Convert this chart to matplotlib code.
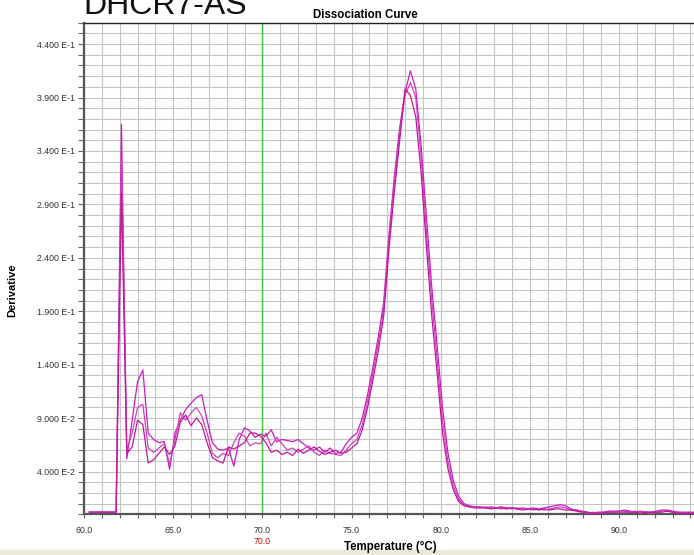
import matplotlib

matplotlib.use("Agg")
import matplotlib.pyplot as plt
from matplotlib.patches import Rectangle
from matplotlib.ticker import FixedLocator, FuncFormatter, MultipleLocator

# --- DATA

temperature = [
    60.3, 60.6, 60.9, 61.2, 61.5, 61.8, 62.1, 62.4, 62.7, 63.0,
    63.3, 63.6, 63.9, 64.2, 64.5, 64.8, 65.1, 65.4, 65.7, 66.0,
    66.3, 66.6, 66.9, 67.2, 67.5, 67.8, 68.1, 68.4, 68.7, 69.0,
    69.3, 69.6, 69.9, 70.2, 70.5, 70.8, 71.1, 71.4, 71.7, 72.0,
    72.3, 72.6, 72.9, 73.2, 73.5, 73.8, 74.1, 74.4, 74.7, 75.0,
    75.3, 75.6, 75.9, 76.2, 76.5, 76.8, 77.1, 77.4, 77.7, 78.0,
    78.3, 78.6, 78.9, 79.2, 79.5, 79.8, 80.1, 80.4, 80.7, 81.0,
    81.3, 81.6, 81.9, 82.2, 82.5, 82.8, 83.1, 83.4, 83.7, 84.0,
    84.3, 84.6, 84.9, 85.2, 85.5, 85.8, 86.1, 86.4, 86.7, 87.0,
    87.3, 87.6, 87.9, 88.2, 88.5, 88.8, 89.1, 89.4, 89.7, 90.0,
    90.3, 90.6, 90.9, 91.2, 91.5, 91.8, 92.1, 92.4, 92.7, 93.0,
    93.3, 93.6, 93.9, 94.2,
]

well_a = [
    .002, .002, .002, .002, .002, .002, .365, .052, .088, .124,
    .135, .076, .070, .067, .068, .042, .076, .088, .098, .104,
    .109, .112, .088, .067, .061, .060, .062, .045, .070, .081,
    .078, .072, .075, .073, .079, .068, .070, .069, .068, .070,
    .066, .062, .060, .063, .058, .062, .057, .058, .066, .072,
    .076, .090, .112, .138, .166, .198, .262, .316, .362, .395,
    .415, .398, .345, .278, .212, .158, .100, .058, .032, .017,
    .010, .008, .007, .007, .006, .007, .006, .007, .006, .006,
    .005, .006, .005, .006, .005, .006, .007, .008, .009, .008,
    .005, .004, .003, .002, .001, .002, .002, .003, .003, .003,
    .004, .003, .002, .003, .002, .002, .003, .004, .004, .003,
    .002, .002, .002, .001,
]

well_b = [
    .002, .002, .002, .002, .002, .002, .335, .060, .076, .100,
    .103, .062, .058, .062, .066, .047, .070, .095, .088, .095,
    .100, .092, .076, .057, .053, .057, .055, .067, .076, .073,
    .064, .067, .066, .076, .064, .072, .066, .060, .062, .058,
    .061, .064, .058, .055, .060, .057, .056, .055, .060, .066,
    .070, .084, .106, .132, .160, .192, .255, .310, .356, .392,
    .404, .390, .335, .265, .200, .145, .088, .050, .027, .014,
    .009, .007, .007, .006, .007, .006, .006, .005, .006, .005,
    .006, .005, .005, .004, .005, .004, .005, .006, .007, .006,
    .004, .004, .003, .001, .002, .001, .002, .002, .002, .003,
    .003, .002, .003, .002, .002, .001, .002, .003, .003, .002,
    .002, .001, .002, .002,
]

well_c = [
    .002, .002, .002, .002, .002, .002, .300, .057, .063, .088,
    .084, .048, .051, .057, .063, .056, .064, .086, .093, .083,
    .090, .084, .067, .053, .050, .048, .063, .061, .064, .067,
    .076, .076, .073, .067, .058, .060, .056, .058, .055, .061,
    .057, .060, .063, .059, .056, .058, .060, .057, .058, .062,
    .066, .079, .100, .126, .153, .185, .248, .302, .350, .398,
    .392, .372, .320, .250, .185, .132, .076, .043, .023, .012,
    .008, .007, .006, .006, .006, .005, .006, .006, .005, .006,
    .005, .004, .005, .005, .004, .005, .004, .005, .005, .004,
    .004, .003, .002, .002, .001, .001, .001, .002, .002, .002,
    .002, .002, .002, .001, .002, .002, .002, .002, .003, .002,
    .001, .001, .001, .001,
]

x_ticks = [60, 65, 70, 75, 80, 85, 90]
y_ticks = [0.04, 0.09, 0.14, 0.19, 0.24, 0.29, 0.34, 0.39, 0.44]
marker_temp = 70.0

COLORS = ["#c81cc0", "#cc44b8", "#c0189c"]

W, H = 694, 555


def sci_label(v, _pos=None):
    # instrument style: "4.400 E-1"
    exp = 0
    m = v
    while m < 1:
        m *= 10
        exp -= 1
    return f"{m:.3f} E{exp}"


def main():
    plt.rcParams["font.family"] = ["Liberation Sans", "DejaVu Sans"]

    fig = plt.figure(figsize=(W / 100, H / 100), dpi=100)
    ax = fig.add_axes([84 / W, (H - 514.3) / H, 610 / W, (514.3 - 22.7) / H])

    for ys, color in zip([well_a, well_b, well_c], COLORS):
        ax.plot(temperature, ys, color=color, lw=0.9, zorder=3)

    ax.axvline(marker_temp, color="#3ccc3c", lw=1.0, zorder=2)

    ax.set_xlim(60, 94.2)
    ax.set_ylim(0, 0.46)

    ax.xaxis.set_major_locator(FixedLocator(x_ticks))
    ax.xaxis.set_minor_locator(MultipleLocator(1))
    ax.xaxis.set_major_formatter(FuncFormatter(lambda v, p: f"{v:.1f}"))
    ax.yaxis.set_major_locator(FixedLocator(y_ticks))
    ax.yaxis.set_minor_locator(MultipleLocator(0.01))
    ax.yaxis.set_major_formatter(FuncFormatter(sci_label))

    ax.grid(which="both", color="#c4c4c4", lw=0.8, zorder=0)
    ax.set_axisbelow(True)

    ax.tick_params(axis="both", which="both", labelsize=6.3, labelcolor="#333333", color="#666666")
    ax.tick_params(axis="y", which="both", length=4.5, width=0.8, pad=2)
    ax.tick_params(axis="x", which="both", length=3, width=0.8, pad=5.5)

    for side in ("left", "bottom"):
        ax.spines[side].set_color("#555555")
        ax.spines[side].set_linewidth(1.6)
    ax.spines["top"].set_color("#222222")
    ax.spines["top"].set_linewidth(1.0)
    ax.spines["right"].set_visible(False)

    # red cursor value under the 70.0 tick
    ax.text(
        marker_temp, -(541 - 514.3) / (514.3 - 22.7), f"{marker_temp:.1f}",
        transform=ax.get_xaxis_transform(), ha="center", va="center",
        fontsize=6.3, color="#cc1111",
    )

    fig.text(390 / W, (H - 547) / H, "Temperature (°C)", ha="center", va="center",
             fontsize=8.3, fontweight="bold")
    fig.text(12 / W, (H - 290) / H, "Derivative", ha="center", va="center",
             rotation=90, fontsize=8, fontweight="bold")
    fig.text(365 / W, (H - 15) / H, "Dissociation Curve", ha="center", va="center",
             fontsize=8.3, fontweight="bold")
    fig.text(83 / W, (H - 13.5) / H, "DHCR7-AS", ha="left", va="baseline",
             fontsize=23, color="#111111")

    fig.patches.append(
        Rectangle((0, 0), 1, 5 / H, transform=fig.transFigure, color="#ece9d8", zorder=-1)
    )

    fig.savefig("out.png", dpi=100)


if __name__ == "__main__":
    main()
